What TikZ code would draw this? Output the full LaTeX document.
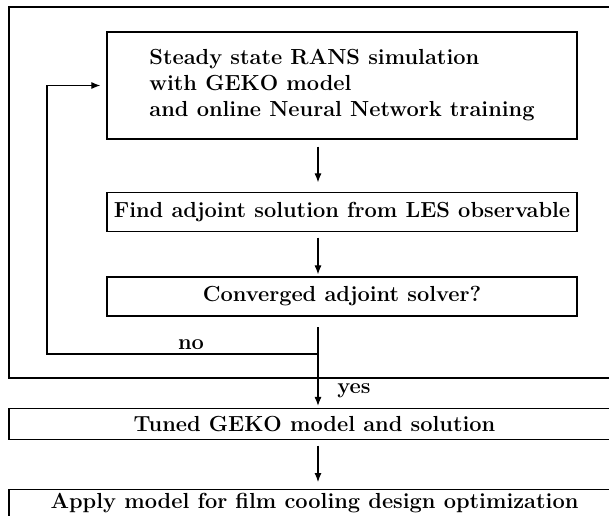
\documentclass[tikz,border=0pt]{standalone}
\usetikzlibrary{arrows.meta}
\begin{document}
\begin{tikzpicture}[x=1pt,y=-1pt,
  every node/.style={font=\fontsize{21.8}{26}\selectfont\bfseries},
  procbox/.style={draw,line width=1.2pt,rectangle,inner sep=0pt},
  frame/.style={draw,line width=1.2pt,rectangle,inner sep=0pt},
  flow/.style={line width=1.1pt,-{Latex[length=9pt,width=7pt]}},
  link/.style={line width=1.1pt}]
\useasboundingbox (0,0) rectangle (609,515);
\clip (0,0) rectangle (609,515);
% outer loop frame
\node[frame, minimum width=611pt, minimum height=371pt] (outer) at (314.5,192.5) {};
% process boxes
\node[procbox, minimum width=470pt, minimum height=107pt, align=left] (b1) at (342,85.5)
  {Steady state RANS simulation\\with GEKO model\\and online Neural Network training};
\node[procbox, minimum width=470pt, minimum height=39pt] (b2) at (342,212)
  {Find adjoint solution from LES observable};
\node[procbox, minimum width=470pt, minimum height=39pt] (b3) at (342,296.5)
  {Converged adjoint solver?};
\node[procbox, minimum width=611pt, minimum height=31pt] (b4) at (314.5,424)
  {Tuned GEKO model and solution};
\node[procbox, minimum width=611pt, minimum height=45pt, anchor=north] (b5) at (314.5,488.5) {};
\node (b5t) at (314.5,503) {Apply model for film cooling design optimization};
% helper coordinates
\coordinate (col) at (318,0);
\coordinate (jn) at (318,354);
\coordinate (lc) at (47,354);
% connectors
\draw[flow, shorten <=7pt, shorten >=9.5pt] (b1.south -| col) -- (b2.north -| col);
\draw[flow, shorten <=5.5pt, shorten >=2pt] (b2.south -| col) -- (b3.north -| col);
\draw[flow, shorten <=10.7pt, shorten >=2pt] (b3.south -| col) -- (b4.north -| col);
\draw[flow, shorten >=6pt] (jn) -- (lc) |- (b1.west);
\draw[flow, shorten <=5.5pt, shorten >=6.5pt] (b4.south -| col) -- (b5.north -| col);
% labels
\node (no) at (191,345) {no};
\node (yes) at (354,391) {yes};
\end{tikzpicture}
\end{document}
